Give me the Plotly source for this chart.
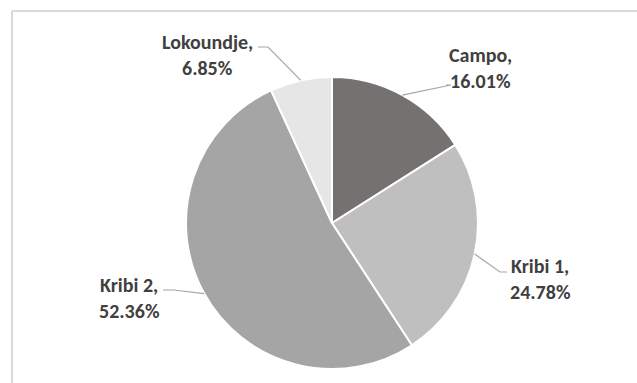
import math
import plotly.graph_objects as go

# Share of each site (percent)
sites = ["Campo", "Kribi 1", "Kribi 2", "Lokoundje"]
shares = [16.01, 24.78, 52.36, 6.85]
colors = ["#767171", "#BFBFBF", "#A5A5A5", "#E7E6E6"]

W, H = 637, 383
CX, CY, R = 332, 223, 146          # pie centre and radius in pixels

# Label block centre (px) and where its leader line meets the text (px), plus stub direction
label_pos = {
    "Campo":     dict(tx=481, ty=68,  lx=446, ly=85,  stub=-5),
    "Kribi 1":   dict(tx=540, ty=279, lx=507, ly=272, stub=7),
    "Kribi 2":   dict(tx=129, ty=298, lx=163, ly=290, stub=-11),
    "Lokoundje": dict(tx=208, ty=55,  lx=258, ly=47,  stub=-10),
}
LINE_GAP = 26
FONT = dict(family="Carlito, Calibri, Lato, sans-serif", size=20, color="#404040")


def px(x):
    return x / W


def py(y):
    return 1 - y / H


fig = go.Figure(go.Pie(
    labels=sites,
    values=shares,
    sort=False,
    direction="clockwise",
    rotation=0,
    marker=dict(colors=colors, line=dict(color="white", width=2)),
    textinfo="none",
    hoverinfo="label+percent",
    showlegend=False,
    domain=dict(x=[px(CX - R), px(CX + R)], y=[py(CY + R), py(CY - R)]),
))

annotations = []
shapes = []
total = sum(shares)
cum = 0.0
for name, val in zip(sites, shares):
    mid = (cum + val / 2) / total * 2 * math.pi
    cum += val
    ex = CX + R * math.sin(mid)
    ey = CY - R * math.cos(mid)
    p = label_pos[name]
    elbow_x = p["lx"] - p["stub"]
    path = (f"M {px(ex)} {py(ey)} L {px(elbow_x)} {py(p['ly'])} "
            f"L {px(p['lx'])} {py(p['ly'])}")
    shapes.append(dict(type="path", xref="paper", yref="paper", path=path,
                       line=dict(color="#A6A6A6", width=1.2)))
    for i, txt in enumerate([f"{name},", f"{val:.2f}%"]):
        yline = p["ty"] + (i - 0.5) * LINE_GAP
        annotations.append(dict(
            x=px(p["tx"]), y=py(yline), xref="paper", yref="paper",
            text=f"<b>{txt}</b>", showarrow=False, font=FONT,
            xanchor="center", yanchor="middle",
        ))

# Chart frame (top and left edges)
frame = dict(color="#D9D9D9", width=2)
shapes.append(dict(type="line", xref="paper", yref="paper",
                   x0=px(12), y0=py(11), x1=1, y1=py(11), line=frame))
shapes.append(dict(type="line", xref="paper", yref="paper",
                   x0=px(12), y0=py(11), x1=px(12), y1=0, line=frame))

fig.update_layout(
    width=W, height=H,
    margin=dict(l=0, r=0, t=0, b=0),
    paper_bgcolor="white",
    plot_bgcolor="white",
    annotations=annotations,
    shapes=shapes,
)

fig.write_html("out.html")
